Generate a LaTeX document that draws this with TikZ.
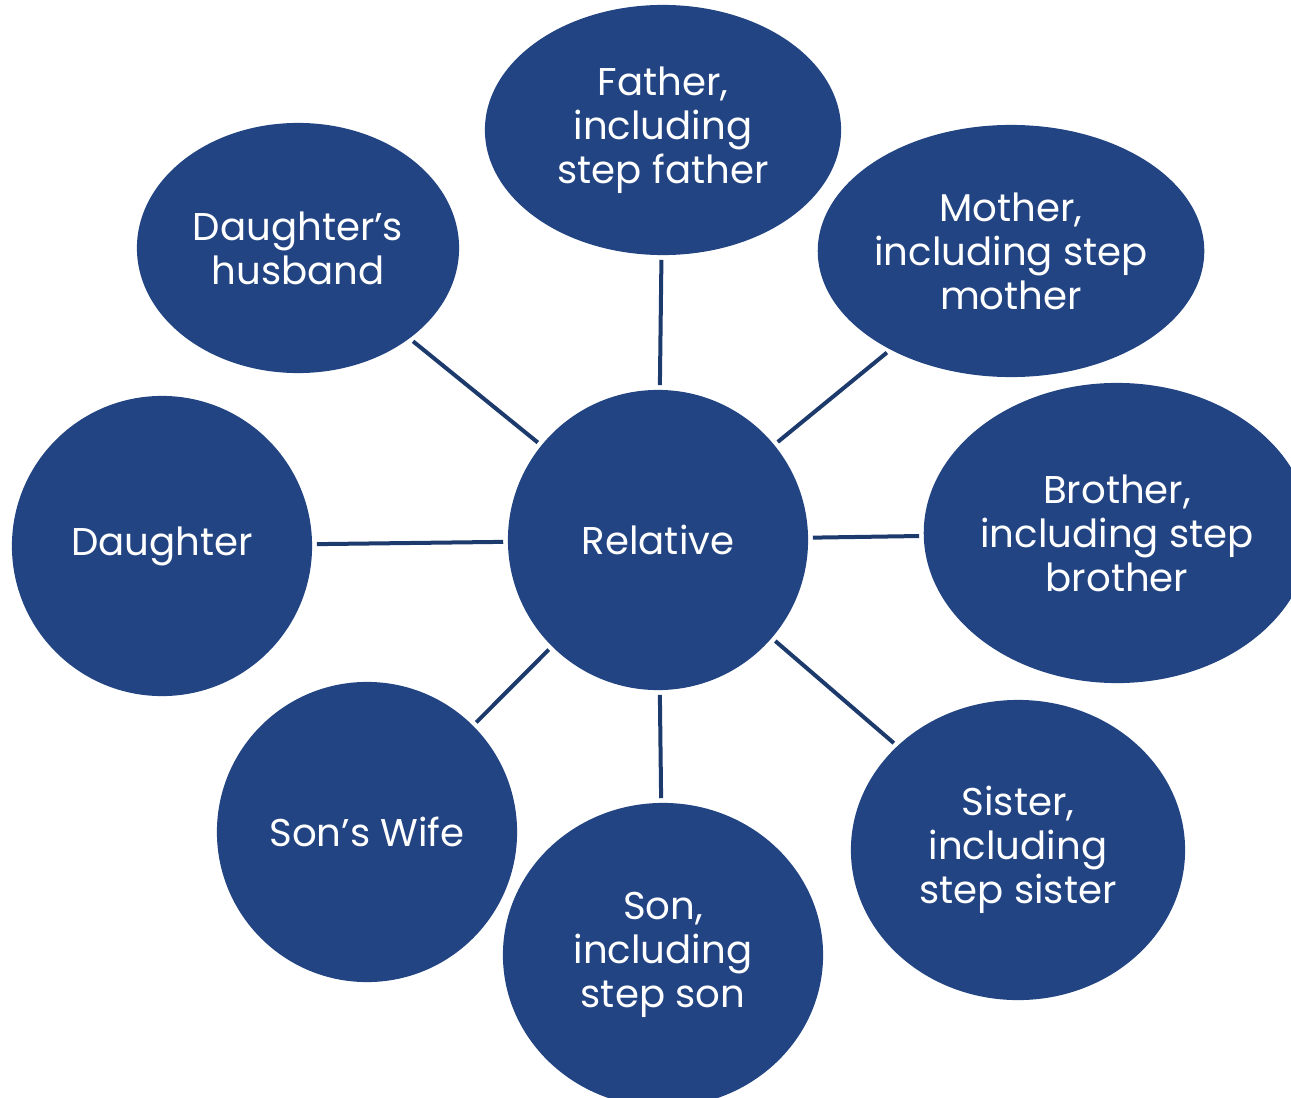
\documentclass[tikz,border=0pt]{standalone}
\usepackage{fontspec}
\setmainfont{Poppins}
\usetikzlibrary{shapes.geometric}
\definecolor{relblue}{HTML}{224483}
\definecolor{reldark}{HTML}{1D3A6C}

\begin{document}
\begin{tikzpicture}[
    x=0.01cm, y=-0.01cm,
    every node/.style={ellipse, fill=relblue, text=white, align=center, inner sep=0pt,
      font=\fontsize{11}{12.5}\selectfont},
    member/.style={minimum width=3.2cm, minimum height=3cm},
    link/.style={draw=reldark, line width=0.04cm, shorten <=0.04cm, shorten >=0.04cm}
  ]
    \useasboundingbox (0,0) rectangle (1291,1097);
    \clip (0,0) rectangle (1291,1097);

    \node[minimum width=3cm, minimum height=3cm] (relative) at (658,540) {Relative};

    \node[member, minimum width=3.56cm, minimum height=2.5cm] (father) at (663,130) {Father,\\including\\step father};
    \node[member, minimum width=3.84cm, minimum height=2.52cm] (mother) at (1011,251) {Mother,\\including step\\mother};
    \node[member, minimum width=3.86cm, minimum height=3cm] (brother) at (1117,533) {Brother,\\including step\\brother};
    \node[member, minimum width=3.34cm, minimum height=3cm] (sister) at (1018,850) {Sister,\\including\\step sister};
    \node[member, minimum width=3.2cm, minimum height=3.04cm] (son) at (663,955) {Son,\\including\\step son};
    \node[member, minimum width=3cm, minimum height=3cm] (sonwife) at (367,832) {Son’s Wife};
    \node[member, minimum width=3cm, minimum height=3cm] (daughter) at (162,546) {Daughter};
    \node[member, minimum width=3.22cm, minimum height=2.5cm] (dhusband) at (298,248) {Daughter’s\\husband};

    \foreach \rel in {father,mother,brother,sister,son,sonwife,daughter,dhusband}
      \draw[link] (relative) -- (\rel);
  \end{tikzpicture}
\end{document}
